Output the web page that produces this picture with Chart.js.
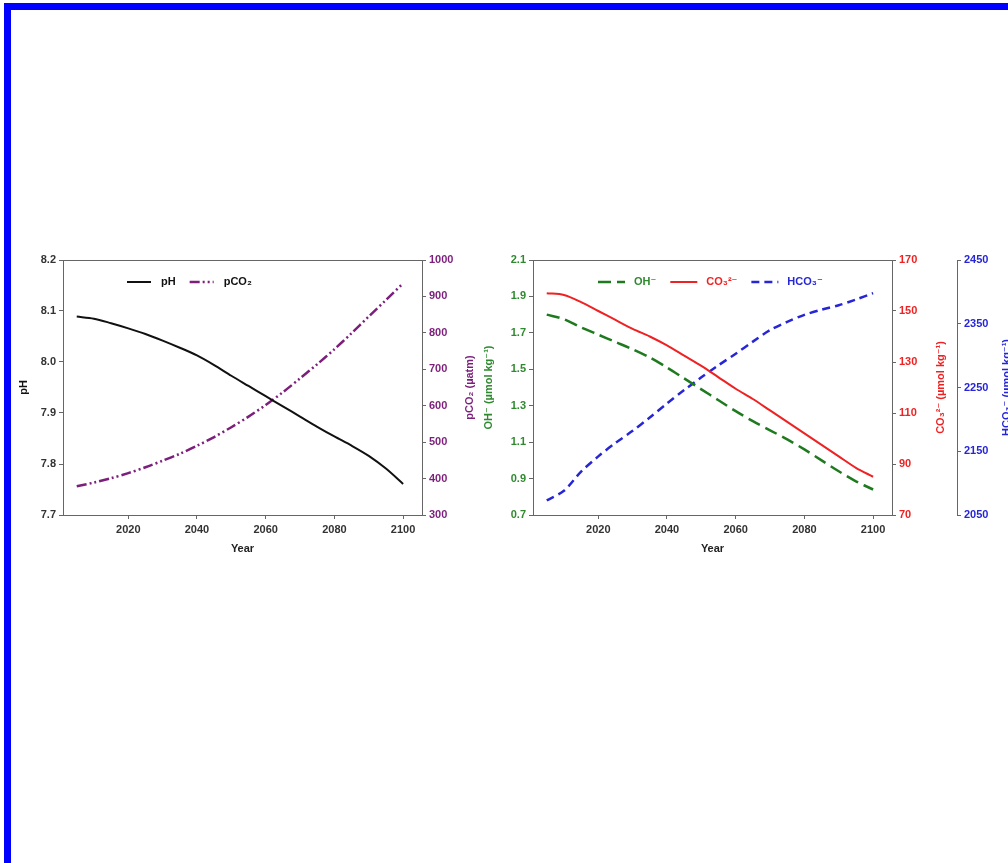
<!DOCTYPE html>
<html>
<head>
<meta charset="utf-8">
<script src="https://cdn.jsdelivr.net/npm/chart.js@4.4.1/dist/chart.umd.min.js"></script>
<style>
  html, body { margin: 0; padding: 0; background: #fff; overflow: hidden; width: 1008px; height: 863px; }
  #frame { position: absolute; left: 4px; top: 3px; width: 1100px; height: 1000px;
           border-left: 7px solid #0000ff; border-top: 7px solid #0000ff; }
  .box { position: absolute; }
  #box1 { left: 13px; top: 240px; }
  #box2 { left: 478px; top: 240px; }
</style>
</head>
<body>
<div id="frame"></div>
<div class="box" id="box1"><canvas id="carbChart" width="467" height="320"></canvas></div>
<div class="box" id="box2"><canvas id="ionChart" width="536" height="320"></canvas></div>
<script>
// ========== DATA ==========
const years = [2005, 2010, 2015, 2020, 2025, 2030, 2035, 2040, 2045, 2050,
               2055, 2060, 2065, 2070, 2075, 2080, 2085, 2090, 2095, 2100];
const phValues = [8.089, 8.085, 8.076, 8.066, 8.055, 8.042, 8.028, 8.013, 7.994, 7.973,
                  7.953, 7.933, 7.913, 7.893, 7.873, 7.854, 7.836, 7.816, 7.791, 7.761];
const pco2Values = [379, 389, 401, 415, 431, 449, 468, 490, 514, 541,
                    570, 602, 637, 675, 714, 755, 799, 845, 890, 936];
const ohValues = [1.80, 1.775, 1.73, 1.69, 1.65, 1.61, 1.565, 1.51, 1.45, 1.39,
                  1.33, 1.27, 1.215, 1.165, 1.115, 1.06, 1.0, 0.94, 0.885, 0.84];
const co3Values = [157, 156.3, 153.5, 150, 146.5, 143, 140, 136.5, 132.5, 128.5,
                   124, 119.5, 115.5, 111, 106.5, 102, 97.5, 93, 88.5, 85];
const hco3Values = [2073, 2088, 2118, 2142, 2163, 2182, 2203, 2225, 2246, 2266,
                    2285, 2303, 2322, 2340, 2353, 2364, 2372, 2379, 2388, 2398];

const yearTicks = [2020, 2040, 2060, 2080, 2100];
const phTicks = [7.7, 7.8, 7.9, 8.0, 8.1, 8.2];
const pco2Ticks = [300, 400, 500, 600, 700, 800, 900, 1000];
const ohTicks = [0.7, 0.9, 1.1, 1.3, 1.5, 1.7, 1.9, 2.1];
const co3Ticks = [70, 90, 110, 130, 150, 170];
const hco3Ticks = [2050, 2150, 2250, 2350, 2450];

const FONT = '"Liberation Sans", Arial, "DejaVu Sans", sans-serif';
Chart.defaults.font.family = FONT;
Chart.defaults.font.size = 11;
Chart.defaults.font.weight = 'bold';
Chart.defaults.color = '#333';

const AXIS = '#666';
const PURPLE = '#7b1f7b';
const GREEN = '#2f8a2f';
const RED = '#ee2222';
const BLUE = '#2626d6';

// ---- helpers ----
const pts = (vals) => years.map((y, i) => ({ x: y, y: vals[i] }));
const fixTicks = (arr) => (scale) => { scale.ticks = arr.map(v => ({ value: v })); };
const fixWidth = (w) => (scale) => { scale.width = w; };
const plain = (v) => String(v);
const grid = { drawOnChartArea: false, tickLength: 4, color: AXIS };
const border = { color: AXIS, width: 1 };

// legend drawn inside the plot area
const insideLegend = {
  id: 'insideLegend',
  afterDraw(chart, args, opts) {
    const ctx = chart.ctx, a = chart.chartArea;
    let x = a.left + opts.offsetX;
    const y = a.top + opts.offsetY;
    ctx.save();
    ctx.font = 'bold 11px ' + FONT;
    ctx.textBaseline = 'middle';
    chart.data.datasets.forEach((ds, i) => {
      ctx.strokeStyle = ds.borderColor;
      ctx.lineWidth = ds.borderWidth;
      ctx.setLineDash(ds.borderDash || []);
      ctx.beginPath();
      ctx.moveTo(x, y);
      ctx.lineTo(x + opts.lineLen, y);
      ctx.stroke();
      ctx.setLineDash([]);
      x += opts.lineLen + opts.gap;
      ctx.fillStyle = opts.textColors[i];
      ctx.fillText(ds.label, x, y);
      x += ctx.measureText(ds.label).width + opts.spacing;
    });
    ctx.restore();
  }
};

// right-hand axis titles, read bottom to top like the left one
const sideTitles = {
  id: 'sideTitles',
  afterDraw(chart, args, opts) {
    const ctx = chart.ctx;
    ctx.save();
    ctx.font = 'bold 11px ' + FONT;
    ctx.textAlign = 'center';
    ctx.textBaseline = 'middle';
    opts.items.forEach(t => {
      const s = chart.scales[t.axis];
      ctx.save();
      ctx.translate(s.right - t.inset, (s.top + s.bottom) / 2);
      ctx.rotate(-Math.PI / 2);
      ctx.fillStyle = t.color;
      ctx.fillText(t.text, 0, 0);
      ctx.restore();
    });
    ctx.restore();
  }
};

// top frame line of the plot box
const topFrame = {
  id: 'topFrame',
  afterDraw(chart) {
    const ctx = chart.ctx, a = chart.chartArea;
    ctx.save();
    ctx.strokeStyle = AXIS;
    ctx.lineWidth = 1;
    ctx.beginPath();
    ctx.moveTo(a.left, Math.round(a.top) + 0.5);
    ctx.lineTo(a.right, Math.round(a.top) + 0.5);
    ctx.stroke();
    ctx.restore();
  }
};

const xAxis = {
  type: 'linear', min: 2001, max: 2105.5,
  afterBuildTicks: fixTicks(yearTicks),
  afterFit: (s) => { s.height = 45; },
  grid: grid, border: border,
  ticks: { color: '#333', padding: 4, callback: plain },
  title: { display: true, text: 'Year', color: '#222', padding: { top: 2, bottom: 4 } }
};

// ========== LEFT: pH and pCO2 ==========
const carbChart = new Chart(document.getElementById('carbChart'), {
  type: 'line',
  data: {
    datasets: [{
      label: 'pH',
      data: pts(phValues),
      yAxisID: 'y',
      borderColor: '#111',
      borderWidth: 2,
      pointRadius: 0,
      tension: 0.3
    }, {
      label: 'pCO₂',
      data: pts(pco2Values),
      yAxisID: 'y1',
      borderColor: PURPLE,
      borderWidth: 2.5,
      borderDash: [10, 3, 2, 3, 2, 3],
      pointRadius: 0,
      tension: 0.3
    }]
  },
  options: {
    responsive: false,
    animation: false,
    layout: { padding: { top: 20, bottom: 0, left: 0, right: 0 } },
    plugins: {
      legend: { display: false },
      tooltip: { enabled: false },
      insideLegend: { offsetX: 64, offsetY: 22, lineLen: 24, gap: 10, spacing: 14, textColors: ['#111', '#111'] },
      sideTitles: { items: [{ axis: 'y1', text: 'pCO₂ (µatm)', color: PURPLE, inset: 10 }] }
    },
    scales: {
      x: xAxis,
      y: {
        position: 'left', min: 7.7, max: 8.2,
        afterBuildTicks: fixTicks(phTicks),
        afterFit: fixWidth(50),
        grid: grid, border: border,
        ticks: { color: '#333', callback: v => v.toFixed(1) },
        title: { display: true, text: 'pH', color: '#111' }
      },
      y1: {
        position: 'right', min: 300, max: 1000,
        afterBuildTicks: fixTicks(pco2Ticks),
        afterFit: fixWidth(58),
        grid: grid, border: border,
        ticks: { color: PURPLE, callback: plain }
      }
    }
  },
  plugins: [insideLegend, sideTitles, topFrame]
});

// ========== RIGHT: OH-, CO3 2-, HCO3- ==========
const ionChart = new Chart(document.getElementById('ionChart'), {
  type: 'line',
  data: {
    datasets: [{
      label: 'OH⁻',
      data: pts(ohValues),
      yAxisID: 'y',
      borderColor: '#1f7a1f',
      borderWidth: 2.5,
      borderDash: [13, 6],
      pointRadius: 0,
      tension: 0.3
    }, {
      label: 'CO₃²⁻',
      data: pts(co3Values),
      yAxisID: 'y1',
      borderColor: RED,
      borderWidth: 2,
      pointRadius: 0,
      tension: 0.3
    }, {
      label: 'HCO₃⁻',
      data: pts(hco3Values),
      yAxisID: 'y2',
      borderColor: BLUE,
      borderWidth: 2.5,
      borderDash: [8, 5],
      pointRadius: 0,
      tension: 0.3
    }]
  },
  options: {
    responsive: false,
    animation: false,
    layout: { padding: { top: 20, bottom: 0, left: 0, right: 0 } },
    plugins: {
      legend: { display: false },
      tooltip: { enabled: false },
      insideLegend: { offsetX: 65, offsetY: 22, lineLen: 27, gap: 9, spacing: 14, textColors: [GREEN, RED, BLUE] },
      sideTitles: { items: [
        { axis: 'y1', text: 'CO₃²⁻ (µmol kg⁻¹)', color: RED, inset: 16 },
        { axis: 'y2', text: 'HCO₃⁻ (µmol kg⁻¹)', color: BLUE, inset: 7 }
      ] }
    },
    scales: {
      x: xAxis,
      y: {
        position: 'left', min: 0.7, max: 2.1,
        afterBuildTicks: fixTicks(ohTicks),
        afterFit: fixWidth(55),
        grid: grid, border: border,
        ticks: { color: GREEN, callback: v => v.toFixed(1) },
        title: { display: true, text: 'OH⁻ (µmol kg⁻¹)', color: GREEN }
      },
      y1: {
        position: 'right', min: 70, max: 170,
        afterBuildTicks: fixTicks(co3Ticks),
        afterFit: fixWidth(65),
        grid: grid, border: border,
        ticks: { color: RED, callback: plain }
      },
      y2: {
        position: 'right', min: 2050, max: 2450,
        afterBuildTicks: fixTicks(hco3Ticks),
        afterFit: fixWidth(57),
        grid: grid, border: border,
        ticks: { color: BLUE, callback: plain }
      }
    }
  },
  plugins: [insideLegend, sideTitles, topFrame]
});
</script>
</body>
</html>
